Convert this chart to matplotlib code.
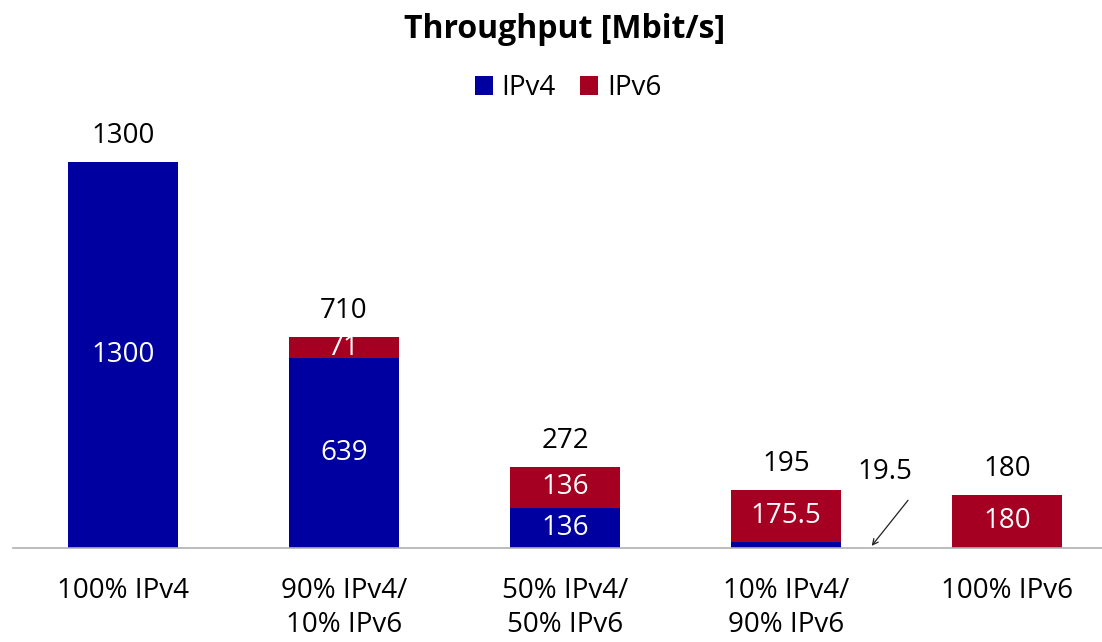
import matplotlib.pyplot as plt
import numpy as np

plt.rcParams['font.family'] = ['Open Sans', 'DejaVu Sans']

categories = ['100% IPv4', '90% IPv4/\n10% IPv6', '50% IPv4/\n50% IPv6', '10% IPv4/\n90% IPv6', '100% IPv6']
ipv4 = [1300, 639, 136, 19.5, 0]
ipv6 = [0, 71, 136, 175.5, 180]
totals = [1300, 710, 272, 195, 180]

blue = '#0000a0'
red = '#a50021'
fs = 20

fig = plt.figure(figsize=(11.02, 6.42), dpi=100)
ax = fig.add_axes([12.5 / 1102, 94 / 642, 1 - 12.5 / 1102, 448 / 642])

x = np.arange(len(categories))
ax.bar(x, ipv4, width=0.5, color=blue, label='IPv4')
ax.bar(x, ipv6, width=0.5, bottom=ipv4, color=red, label='IPv6')

ax.set_xlim(-0.5, -0.5 + 1089.5 / 221)
ax.set_ylim(0, 448 / (386 / 1300))

# values inside segments
for i in range(len(x)):
    if ipv4[i] > 50:
        ax.text(x[i], ipv4[i] / 2, f'{ipv4[i]:g}', ha='center', va='center', color='white', fontsize=fs)
    if ipv6[i] > 0:
        ax.text(x[i], ipv4[i] + ipv6[i] / 2, f'{ipv6[i]:g}', ha='center', va='center', color='white', fontsize=fs)
    ax.annotate(f'{totals[i]:g}', (x[i], totals[i]), xytext=(0, 26), textcoords='offset pixels',
                ha='center', va='center', fontsize=fs)

# small IPv4 share in bar 4
ax.annotate('', xy=(3.38, 0), xytext=(3.56, 168),
            arrowprops=dict(arrowstyle='->', color='#202020', lw=0.9))
ax.text(3.447, 255, f'{ipv4[3]:g}', ha='center', va='center', fontsize=fs)

for s in ['top', 'right', 'left']:
    ax.spines[s].set_visible(False)
ax.spines['bottom'].set_color('#b0b0b0')
ax.spines['bottom'].set_linewidth(1.2)
ax.set_yticks([])
ax.set_xticks(x)
ax.set_xticklabels(categories, fontsize=fs, linespacing=1.28)
ax.tick_params(axis='x', length=0, pad=21)

fig.text(565 / 1102, 1 - 29 / 642, 'Throughput [Mbit/s]', ha='center', va='center',
         fontsize=23, fontweight='bold')
fig.legend(loc='center', bbox_to_anchor=(568 / 1102, 1 - 88 / 642), ncol=2, frameon=False,
           fontsize=fs, handlelength=0.65, handleheight=0.65, handletextpad=0.3, columnspacing=0.9)

fig.savefig('out.png', dpi=100)
